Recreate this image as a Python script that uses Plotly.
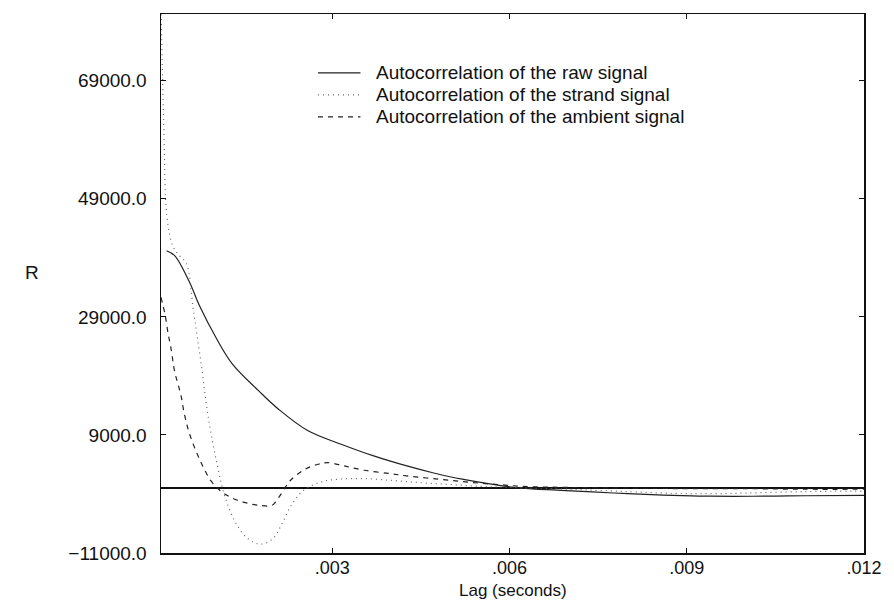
import plotly.graph_objects as go

# ---- data ----
raw_lag = [0.000195, 0.000334, 0.000585, 0.000752, 0.00103, 0.00131, 0.001755, 0.00209,
           0.00259, 0.00315, 0.00370, 0.00426, 0.0047, 0.0052, 0.0058, 0.0062, 0.0068,
           0.0074, 0.0080, 0.0086, 0.0092, 0.0098, 0.0105, 0.0110, 0.0120]
raw_r = [40189, 39340, 34816, 30867, 25493, 20985, 16459, 13357,
         9700, 7425, 5441, 3746, 2600, 1500, 500, 0, -350,
         -650, -950, -1200, -1350, -1400, -1350, -1300, -1250]

strand_lag = [0.0001, 0.00015, 0.0002, 0.0003, 0.0004, 0.00053, 0.00065, 0.00078, 0.0009,
              0.00105, 0.0012, 0.0014, 0.0016, 0.0018, 0.0020, 0.00215, 0.0023, 0.0025,
              0.0028, 0.0031, 0.0035, 0.0040, 0.0045, 0.0050, 0.0055, 0.0060, 0.0070,
              0.0080, 0.0088, 0.0094, 0.0100, 0.0110, 0.0120]
strand_r = [82000, 60000, 46000, 41000, 39500, 38000, 30000, 21000, 12000,
            4000, -2000, -6500, -8800, -9500, -8500, -6000, -3000, -500,
            1000, 1500, 1600, 1300, 900, 600, 300, 100, -200,
            -600, -900, -950, -850, -600, -500]

ambient_lag = [0.0001, 0.000167, 0.000222, 0.000267, 0.000334, 0.000389, 0.000446, 0.000484,
               0.00053, 0.000585, 0.000752, 0.000947, 0.00111, 0.00131, 0.00153, 0.001755,
               0.00198, 0.00209, 0.0022, 0.00231, 0.00254, 0.00276, 0.00292, 0.0032,
               0.00354, 0.00398, 0.00426, 0.0048, 0.0053, 0.0058, 0.0062, 0.0070,
               0.0080, 0.0090, 0.0100, 0.0110, 0.0120]
ambient_r = [32300, 29457, 26070, 23800, 19560, 17595, 15330, 13100,
             11080, 9120, 4882, 1204, -491, -1728, -2474, -2915,
             -2915, -1627, 70, 1490, 3190, 4035, 4306, 3747,
             3015, 2440, 2050, 1500, 1000, 600, 300, 100,
             0, -100, -100, -200, -200]

series_names = ["Autocorrelation of the raw signal",
                "Autocorrelation of the strand signal",
                "Autocorrelation of the ambient signal"]

x_tickvals = [0.003, 0.006, 0.009, 0.012]
x_ticktext = [".003", ".006", ".009", ".012"]
y_tickvals = [-11000, 9000, 29000, 49000, 69000]
y_ticktext = ["\u221211000.0", "9000.0", "29000.0", "49000.0", "69000.0"]

FONT = "Liberation Sans, Arial, Helvetica, sans-serif"
INK = "#111111"

styles = [dict(color="#222222", width=1.2),
          dict(color="#666666", width=1.2, dash="1px,4px"),
          dict(color="#222222", width=1.2, dash="5px,5px")]

fig = go.Figure()
for lag, r, name, st in zip([raw_lag, strand_lag, ambient_lag],
                            [raw_r, strand_r, ambient_r], series_names, styles):
    fig.add_trace(go.Scatter(x=lag, y=r, mode="lines", line_shape="spline",
                             name=name, line=st, showlegend=False, hoverinfo="skip"))

axis_common = dict(showgrid=False, showline=True, linecolor=INK, linewidth=1.5,
                   mirror="allticks", ticks="inside", ticklen=5, tickcolor=INK)

fig.update_xaxes(range=[0.0001, 0.012], tickmode="array", tickvals=x_tickvals,
                 ticktext=x_ticktext, zeroline=False, ticklabelstandoff=-2,
                 tickfont=dict(family=FONT, size=18, color=INK), **axis_common)
fig.update_yaxes(range=[-11000, 80300], tickmode="array", tickvals=y_tickvals,
                 ticktext=y_ticktext, zeroline=True, zerolinecolor=INK, zerolinewidth=1.3,
                 ticklabelstandoff=9,
                 tickfont=dict(family=FONT, size=19, color=INK), **axis_common)

PL, PW, PB, PH = 161, 712, 553, 540   # plot area in pixels

# axis titles
fig.add_annotation(text="Lag (seconds)", xref="paper", yref="paper",
                   x=(517 - PL) / PW, y=(PB - 591) / PH, xanchor="center", yanchor="middle",
                   showarrow=False, borderpad=0,
                   font=dict(family=FONT, size=17, color=INK))
fig.add_annotation(text="R", xref="paper", yref="paper", x=-0.1966, y=0.52,
                   showarrow=False, font=dict(family=FONT, size=19, color=INK))

# key drawn inside the plot
row_y = [72, 94, 116]
for name, st, py in zip(series_names, styles, row_y):
    yp = (PB - py) / PH
    fig.add_shape(type="line", xref="paper", yref="paper",
                  x0=(320 - PL) / PW, x1=(363 - PL) / PW, y0=yp, y1=yp,
                  line=st)
    fig.add_annotation(text=name, xref="paper", yref="paper",
                       x=(377 - PL) / PW, y=yp, xanchor="left", yanchor="middle",
                       showarrow=False, font=dict(family=FONT, size=19, color=INK))

fig.update_layout(
    width=894, height=604,
    margin=dict(l=161, r=21, t=13, b=51),
    paper_bgcolor="white", plot_bgcolor="white",
    font=dict(family=FONT, size=19, color=INK),
    showlegend=False,
    hovermode=False,
)

fig.write_html("out.html",
               config={"displayModeBar": False, "staticPlot": True},
               post_script="document.body.style.margin='0';document.body.style.overflow='hidden';")
